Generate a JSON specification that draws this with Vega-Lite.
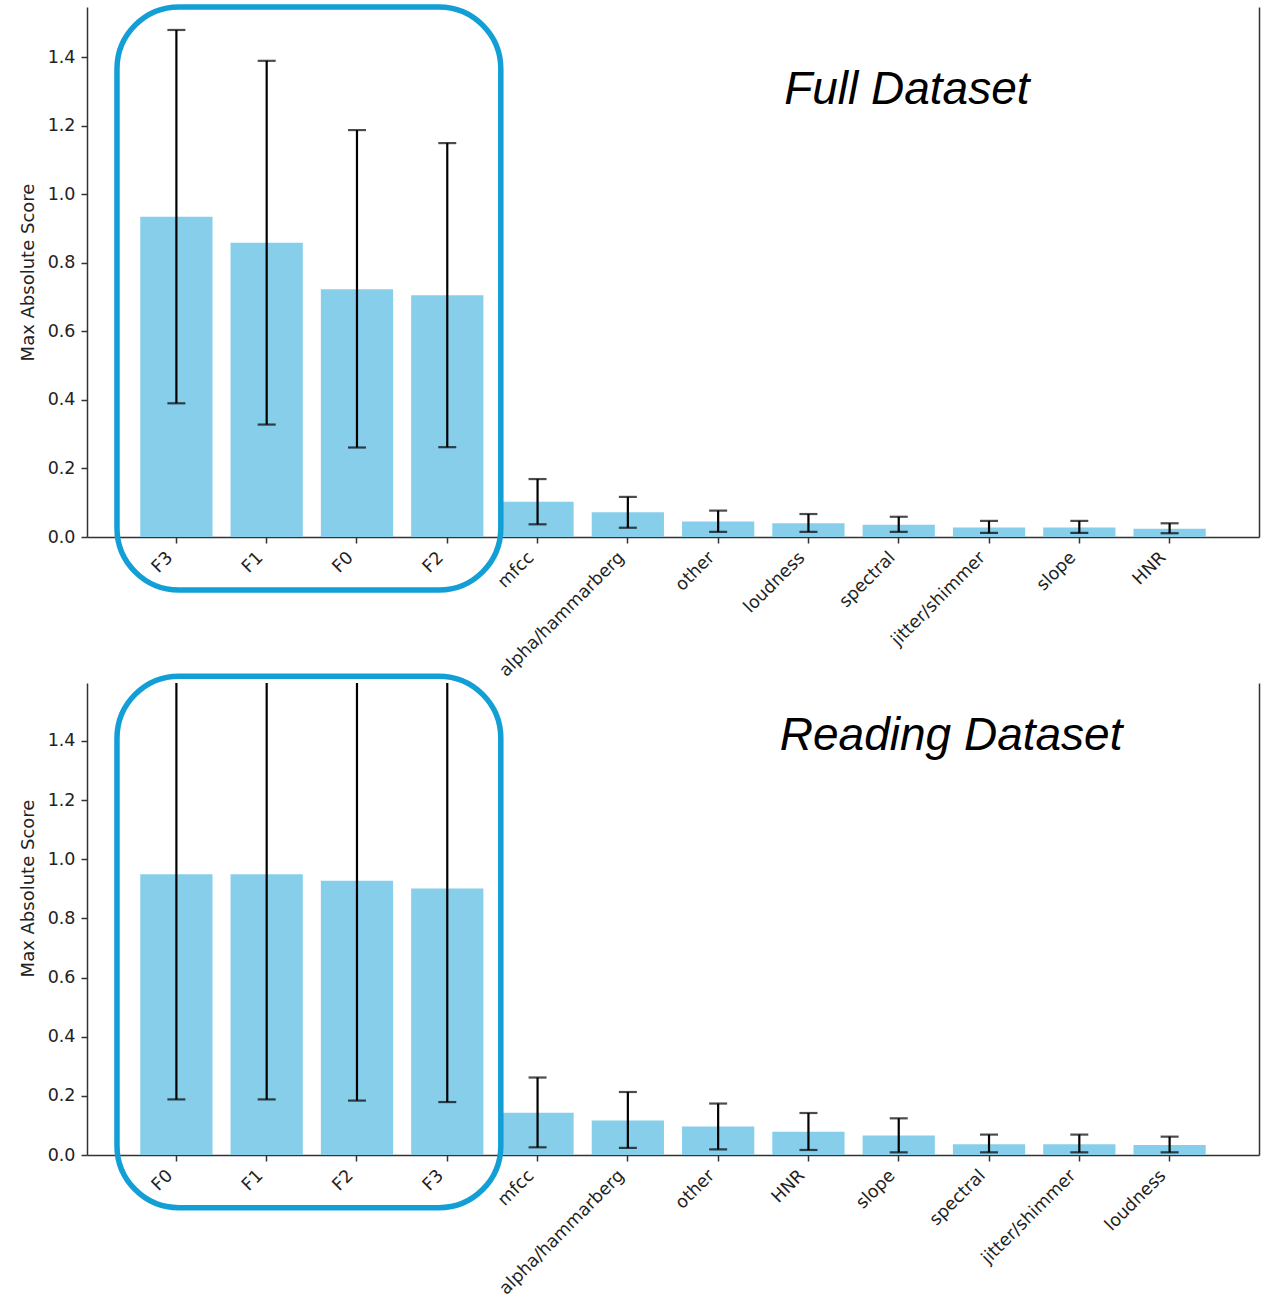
{
  "$schema": "https://vega.github.io/schema/vega-lite/v6.json",
  "background": "white",
  "padding": {"left": 19, "top": 4, "right": 5, "bottom": 0},
  "spacing": 146,
  "bounds": "flush",
  "config": {
    "view": {"stroke": null},
    "font": "DejaVu Sans",
    "axis": {
      "labelFont": "DejaVu Sans", "labelFontSize": 17.5, "labelColor": "#222",
      "titleFont": "DejaVu Sans", "titleFontSize": 18, "titleFontWeight": "normal", "titleColor": "#222",
      "domainColor": "#333", "domainWidth": 1.5, "tickColor": "#333", "tickWidth": 1.5, "tickSize": 6, "grid": false
    }
  },
  "vconcat": [
    {
      "width": 1172, "height": 530,
      "data": {"values": [
        {"feature": "F3", "mean": 0.934, "lo": 0.390, "hi": 1.479},
        {"feature": "F1", "mean": 0.858, "lo": 0.328, "hi": 1.389},
        {"feature": "F0", "mean": 0.723, "lo": 0.261, "hi": 1.187},
        {"feature": "F2", "mean": 0.705, "lo": 0.262, "hi": 1.149},
        {"feature": "mfcc", "mean": 0.103, "lo": 0.037, "hi": 0.169},
        {"feature": "alpha/hammarberg", "mean": 0.072, "lo": 0.027, "hi": 0.117},
        {"feature": "other", "mean": 0.045, "lo": 0.015, "hi": 0.077},
        {"feature": "loudness", "mean": 0.040, "lo": 0.015, "hi": 0.067},
        {"feature": "spectral", "mean": 0.036, "lo": 0.015, "hi": 0.059},
        {"feature": "jitter/shimmer", "mean": 0.028, "lo": 0.012, "hi": 0.047},
        {"feature": "slope", "mean": 0.028, "lo": 0.012, "hi": 0.047},
        {"feature": "HNR", "mean": 0.024, "lo": 0.011, "hi": 0.040}
      ]},
      "resolve": {"scale": {"x": "independent"}, "axis": {"x": "independent", "y": "independent"}},
      "layer": [
        {
          "mark": {"type": "bar", "color": "#87CEEB"},
          "encoding": {
            "x": {"field": "feature", "type": "nominal", "sort": null,
                  "scale": {"type": "band", "paddingInner": 0.2, "paddingOuter": 0.59},
                  "axis": {"title": null, "labelAngle": -45, "labelAlign": "right", "labelBaseline": "bottom", "labelPadding": 18, "labelLimit": 400, "labelOverlap": false}},
            "y": {"field": "mean", "type": "quantitative", "scale": {"domain": [0, 1.546], "nice": false},
                  "axis": {"title": "Max Absolute Score", "values": [0, 0.2, 0.4, 0.6, 0.8, 1.0, 1.2, 1.4], "format": ".1f", "labelPadding": 6, "titlePadding": 10}}
          }
        },
        {
          "mark": {"type": "rule", "color": "black", "strokeWidth": 2.2},
          "encoding": {
            "x": {"field": "feature", "type": "nominal", "sort": null, "scale": {"type": "band", "paddingInner": 0.2, "paddingOuter": 0.59}, "axis": null},
            "y": {"field": "lo", "type": "quantitative", "scale": {"domain": [0, 1.546], "nice": false}, "axis": null},
            "y2": {"field": "hi"}
          }
        },
        {
          "mark": {"type": "tick", "orient": "horizontal", "color": "black", "size": 18, "thickness": 2.2},
          "encoding": {
            "x": {"field": "feature", "type": "nominal", "sort": null, "scale": {"type": "band", "paddingInner": 0.2, "paddingOuter": 0.59}, "axis": null},
            "y": {"field": "lo", "type": "quantitative", "scale": {"domain": [0, 1.546], "nice": false}, "axis": null}
          }
        },
        {
          "mark": {"type": "tick", "orient": "horizontal", "color": "black", "size": 18, "thickness": 2.2},
          "encoding": {
            "x": {"field": "feature", "type": "nominal", "sort": null, "scale": {"type": "band", "paddingInner": 0.2, "paddingOuter": 0.59}, "axis": null},
            "y": {"field": "hi", "type": "quantitative", "scale": {"domain": [0, 1.546], "nice": false},
                  "axis": {"orient": "right", "labels": false, "ticks": false, "title": null, "domain": true}}
          }
        },
        {
          "data": {"values": [{"x0": -0.658, "x1": 3.593, "y0": -0.1546, "y1": 1.546}]},
          "mark": {"type": "rect", "filled": false, "fill": null, "stroke": "#129FD6", "strokeWidth": 5.5, "cornerRadius": 62},
          "encoding": {
            "x": {"field": "x0", "type": "quantitative", "scale": {"domain": [-0.99, 11.99], "nice": false, "zero": false}, "axis": null},
            "x2": {"field": "x1"},
            "y": {"field": "y0", "type": "quantitative", "scale": {"domain": [0, 1.546], "nice": false}, "axis": null},
            "y2": {"field": "y1"}
          }
        },
        {
          "data": {"values": [{"label": "Full Dataset", "x": 8.09, "y": 1.263}]},
          "mark": {"type": "text", "font": "Liberation Sans", "fontStyle": "italic", "fontSize": 46, "align": "center", "baseline": "alphabetic", "color": "black"},
          "encoding": {
            "x": {"field": "x", "type": "quantitative", "scale": {"domain": [-0.99, 11.99], "nice": false, "zero": false}, "axis": null},
            "y": {"field": "y", "type": "quantitative", "scale": {"domain": [0, 1.546], "nice": false}, "axis": null},
            "text": {"field": "label"}
          }
        }
      ]
    },
    {
      "width": 1172, "height": 472,
      "data": {"values": [
        {"feature": "F0", "mean": 0.949, "lo": 0.188, "hi": 1.710},
        {"feature": "F1", "mean": 0.949, "lo": 0.188, "hi": 1.710},
        {"feature": "F2", "mean": 0.927, "lo": 0.184, "hi": 1.670},
        {"feature": "F3", "mean": 0.901, "lo": 0.179, "hi": 1.623},
        {"feature": "mfcc", "mean": 0.143, "lo": 0.026, "hi": 0.262},
        {"feature": "alpha/hammarberg", "mean": 0.117, "lo": 0.024, "hi": 0.213},
        {"feature": "other", "mean": 0.096, "lo": 0.019, "hi": 0.174},
        {"feature": "HNR", "mean": 0.079, "lo": 0.017, "hi": 0.142},
        {"feature": "slope", "mean": 0.066, "lo": 0.009, "hi": 0.124},
        {"feature": "spectral", "mean": 0.036, "lo": 0.009, "hi": 0.069},
        {"feature": "jitter/shimmer", "mean": 0.036, "lo": 0.009, "hi": 0.069},
        {"feature": "loudness", "mean": 0.034, "lo": 0.009, "hi": 0.062}
      ]},
      "resolve": {"scale": {"x": "independent"}, "axis": {"x": "independent", "y": "independent"}},
      "layer": [
        {
          "mark": {"type": "bar", "color": "#87CEEB"},
          "encoding": {
            "x": {"field": "feature", "type": "nominal", "sort": null,
                  "scale": {"type": "band", "paddingInner": 0.2, "paddingOuter": 0.59},
                  "axis": {"title": null, "labelAngle": -45, "labelAlign": "right", "labelBaseline": "bottom", "labelPadding": 18, "labelLimit": 400, "labelOverlap": false}},
            "y": {"field": "mean", "type": "quantitative", "scale": {"domain": [0, 1.596], "nice": false},
                  "axis": {"title": "Max Absolute Score", "values": [0, 0.2, 0.4, 0.6, 0.8, 1.0, 1.2, 1.4], "format": ".1f", "labelPadding": 6, "titlePadding": 10, "titleY": 205}}
          }
        },
        {
          "mark": {"type": "rule", "color": "black", "strokeWidth": 2.2, "clip": true},
          "encoding": {
            "x": {"field": "feature", "type": "nominal", "sort": null, "scale": {"type": "band", "paddingInner": 0.2, "paddingOuter": 0.59}, "axis": null},
            "y": {"field": "lo", "type": "quantitative", "scale": {"domain": [0, 1.596], "nice": false}, "axis": null},
            "y2": {"field": "hi"}
          }
        },
        {
          "mark": {"type": "tick", "orient": "horizontal", "color": "black", "size": 18, "thickness": 2.2, "clip": true},
          "encoding": {
            "x": {"field": "feature", "type": "nominal", "sort": null, "scale": {"type": "band", "paddingInner": 0.2, "paddingOuter": 0.59}, "axis": null},
            "y": {"field": "lo", "type": "quantitative", "scale": {"domain": [0, 1.596], "nice": false}, "axis": null}
          }
        },
        {
          "mark": {"type": "tick", "orient": "horizontal", "color": "black", "size": 18, "thickness": 2.2, "clip": true},
          "encoding": {
            "x": {"field": "feature", "type": "nominal", "sort": null, "scale": {"type": "band", "paddingInner": 0.2, "paddingOuter": 0.59}, "axis": null},
            "y": {"field": "hi", "type": "quantitative", "scale": {"domain": [0, 1.596], "nice": false},
                  "axis": {"orient": "right", "labels": false, "ticks": false, "title": null, "domain": true}}
          }
        },
        {
          "data": {"values": [{"x0": -0.658, "x1": 3.593, "y0": -0.178, "y1": 1.619}]},
          "mark": {"type": "rect", "filled": false, "fill": null, "stroke": "#129FD6", "strokeWidth": 5.5, "cornerRadius": 62},
          "encoding": {
            "x": {"field": "x0", "type": "quantitative", "scale": {"domain": [-0.99, 11.99], "nice": false, "zero": false}, "axis": null},
            "x2": {"field": "x1"},
            "y": {"field": "y0", "type": "quantitative", "scale": {"domain": [0, 1.596], "nice": false}, "axis": null},
            "y2": {"field": "y1"}
          }
        },
        {
          "data": {"values": [{"label": "Reading Dataset", "x": 8.58, "y": 1.371}]},
          "mark": {"type": "text", "font": "Liberation Sans", "fontStyle": "italic", "fontSize": 46, "align": "center", "baseline": "alphabetic", "color": "black"},
          "encoding": {
            "x": {"field": "x", "type": "quantitative", "scale": {"domain": [-0.99, 11.99], "nice": false, "zero": false}, "axis": null},
            "y": {"field": "y", "type": "quantitative", "scale": {"domain": [0, 1.596], "nice": false}, "axis": null},
            "text": {"field": "label"}
          }
        }
      ]
    }
  ]
}
